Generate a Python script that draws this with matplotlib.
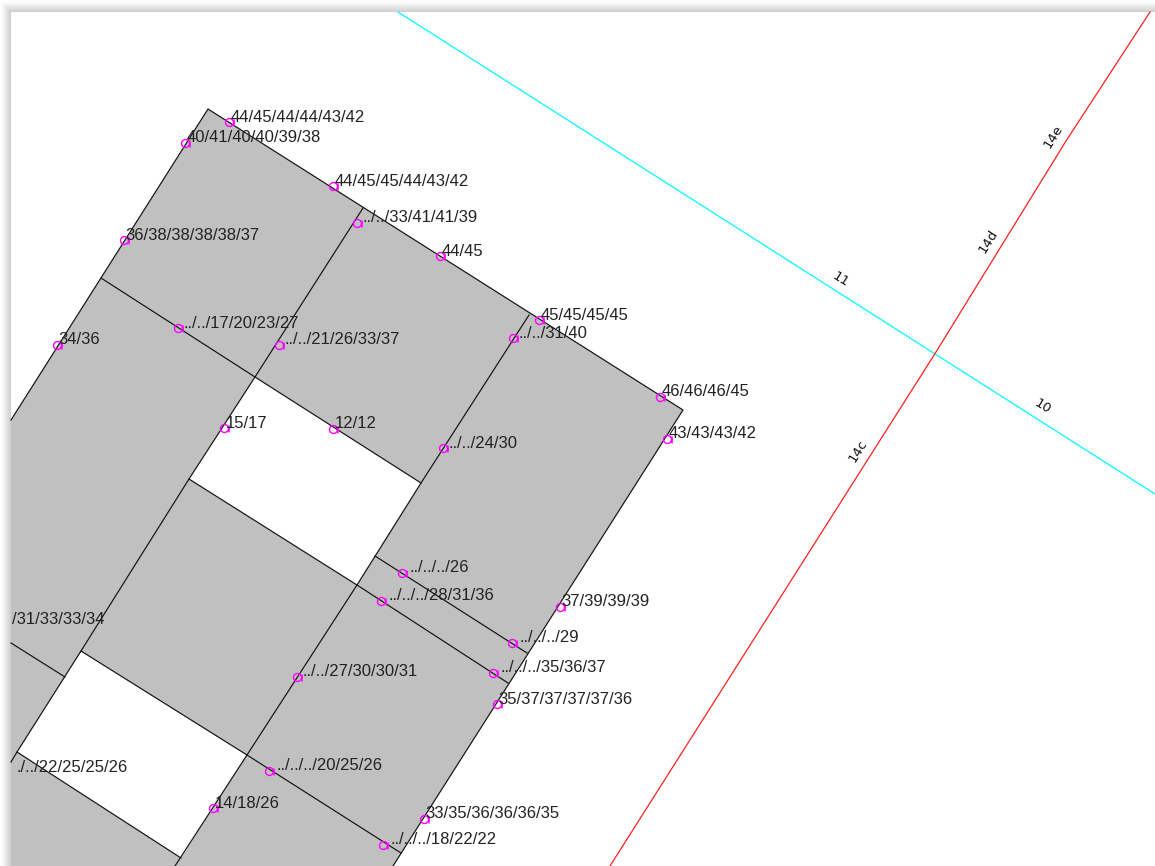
import matplotlib
matplotlib.use('Agg')
import matplotlib.pyplot as plt
from matplotlib.patches import Polygon, Rectangle
from matplotlib.path import Path

# parcel block, image coordinates
block = [(208, 109), (683, 410), (393, 866), (11, 866), (11, 420)]
holes = [
    [(255, 377), (421, 483), (357, 585), (189, 479)],
    [(81, 651), (247, 755), (181, 858), (17, 752)],
]
edges = [
    [(11, 420), (208, 109), (683, 410), (393, 866)],
    [(101, 278), (255, 377), (421, 483)],
    [(363, 208), (255, 377), (189, 479), (81, 651), (17, 752), (11, 762)],
    [(529, 315), (421, 483), (357, 585), (247, 755), (175, 866)],
    [(189, 479), (357, 585), (508, 683)],
    [(375, 556), (527, 653)],
    [(81, 651), (247, 755), (401, 853)],
    [(17, 752), (181, 858)],
    [(11, 643), (65, 677)],
]

# road axes
cyan_road = [(398, 12), (1155, 494)]
red_road = [(1150, 12), (1066, 141), (936, 352), (610, 866)]

# survey points: marker position and the label next to it
point_x = [229, 185, 333, 357, 124, 440, 539, 513, 660, 667, 57, 178, 279, 224, 333,
           443, 402, 381, 560, 512, 493, 497, 297, 269, 213, 424, 383]
point_y = [122, 143, 186, 223, 240, 256, 320, 338, 397, 439, 345, 328, 345, 428, 429,
           448, 573, 601, 607, 643, 673, 704, 677, 771, 808, 819, 845]
point_labels = [
    '44/45/44/44/43/42', '40/41/40/40/39/38', '44/45/45/44/43/42', '../../33/41/41/39',
    '36/38/38/38/38/37', '44/45', '45/45/45/45', '../../31/40', '46/46/46/45',
    '43/43/43/42', '34/36', '../../17/20/23/27', '../../21/26/33/37', '15/17', '12/12',
    '../../24/30', '../../../26', '../../../28/31/36', '37/39/39/39', '../../../29',
    '../../../35/36/37', '35/37/37/37/37/36', '../../27/30/30/31', '../../../20/25/26',
    '14/18/26', '33/35/36/36/36/35', '../../../18/22/22',
]

# labels cut by the window edge
cut_labels = ['/31/33/33/34', './../22/25/25/26']
cut_x = [12, 16]
cut_y = [619, 768]

# road names
road_names = ['11', '10', '14c', '14d', '14e']
road_x = [841, 1043, 858, 988, 1053]
road_y = [280, 407, 451, 241, 136]
road_rot = [-32, -32, 58, 58, 58]

fig = plt.figure(figsize=(11.55, 8.66), dpi=100)
ax = fig.add_axes([0, 0, 1, 1])
ax.set_xlim(0, 1155)
ax.set_ylim(866, 0)
ax.axis('off')

# window shadow
shadow = ['#fcfcfc', '#f8f8f8', '#f3f3f3', '#eeeeee', '#e9e9e9',
          '#e4e4e4', '#dfdfdf', '#dadada', '#d5d5d5', '#d0d0d0']
for i, col in enumerate(shadow):
    ax.add_patch(Rectangle((1 + i, 2 + i), 1300, 1000, fc=col, ec='none', zorder=0))
canvas = Rectangle((11, 12), 1300, 1000, fc='white', ec='none', zorder=1)
ax.add_patch(canvas)

ax.add_patch(Polygon(block, closed=True, fc='#c0c0c0', ec='none', zorder=2))
for h in holes:
    ax.add_patch(Polygon(h, closed=True, fc='white', ec='none', zorder=3))
for e in edges:
    ax.plot([p[0] for p in e], [p[1] for p in e], color='#111111', lw=0.85, zorder=4)

ax.plot([p[0] for p in cyan_road], [p[1] for p in cyan_road], color='#00ffff', lw=0.9, zorder=4)
ax.plot([p[0] for p in red_road], [p[1] for p in red_road], color='#ff2020', lw=0.9, zorder=5)

# circle with a small tick on its right side
mark = Path.make_compound_path(Path.unit_circle(), Path([(1.15, -1.0), (1.15, 0.75)]))
ax.plot(point_x, point_y, ls='none', marker=mark, ms=6.6, mfc='none', mec='#ff00ff', mew=1.0, zorder=6)

for x, y, s in zip(point_x, point_y, point_labels):
    # the ../ groups run wider in the original font, so push those labels right
    dx = 1.5 + 2 * s.count('..')
    ax.text(x + dx, y - 5, s, family='Liberation Sans', fontsize=12, color='#222222',
            ha='left', va='center', zorder=7)
for x, y, s in zip(cut_x, cut_y, cut_labels):
    t = ax.text(x, y, s, family='Liberation Sans', fontsize=12, color='#222222',
                ha='left', va='center', zorder=7)
    t.set_clip_path(canvas)
for x, y, s, r in zip(road_x, road_y, road_names, road_rot):
    ax.text(x, y, s, family='DejaVu Sans', fontsize=9.5, color='#111111', rotation=r,
            rotation_mode='anchor', ha='center', va='center', zorder=7)

fig.savefig('out.png', dpi=100)
